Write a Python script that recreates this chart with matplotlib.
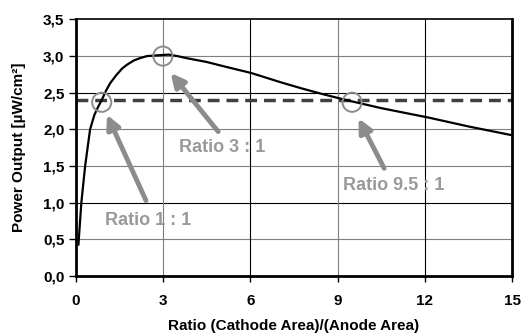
import matplotlib
matplotlib.use("Agg")
import matplotlib.pyplot as plt
import numpy as np

plt.rcParams['font.family'] = ['Liberation Sans', 'DejaVu Sans']
plt.rcParams['font.weight'] = 'bold'

# curve
ratio = np.array([0.1, 0.2, 0.33, 0.5, 0.65, 0.78, 0.9, 1.05, 1.19, 1.4, 1.6, 1.76,
                  2.0, 2.2, 2.45, 2.8, 3.2, 3.5, 3.84, 4.5, 5.2, 6.03, 7.07, 7.76,
                  8.5, 9.3, 10.5, 12.14, 13.5, 15.0])
power = np.array([0.43, 1.0, 1.5, 2.0, 2.2, 2.31, 2.4, 2.53, 2.63, 2.74, 2.83, 2.88,
                  2.94, 2.97, 3.0, 3.01, 3.02, 3.0, 2.97, 2.92, 2.85, 2.77, 2.64, 2.56,
                  2.48, 2.4, 2.29, 2.16, 2.04, 1.92])
threshold = 2.4

marked_x = [0.9, 3.0, 9.5]
marked_y = [2.37, 3.0, 2.37]
labels = ['Ratio 1 : 1', 'Ratio 3 : 1', 'Ratio 9.5 : 1']
label_pos = [(1.0, 0.76), (3.55, 1.76), (9.2, 1.23)]
arrow_tail = [(2.42, 1.03), (4.9, 1.97), (10.6, 1.47)]
arrow_head = [(1.08, 2.2), (3.27, 2.77), (9.72, 2.15)]

fig = plt.figure(figsize=(5.23, 3.35), dpi=100)
ax = fig.add_axes([0.1444, 0.176, 0.835, 0.766])

grid_gray = '#7f7f7f'
for yv, c in zip([0.5, 1.0, 1.5, 2.0, 2.5, 3.0],
                 [grid_gray, 'black', grid_gray, grid_gray, 'black', grid_gray]):
    ax.axhline(yv, color=c, lw=0.8, zorder=1)
for xv, c in zip([3, 6, 9, 12], [grid_gray, 'black', grid_gray, 'black']):
    ax.axvline(xv, color=c, lw=0.8, zorder=1)

ax.plot([0, 15], [threshold, threshold], color='#404040', lw=2.5,
        dashes=(3.4, 2.0), zorder=2)
ax.plot(ratio, power, color='black', lw=1.6, zorder=3, solid_joinstyle='round')

ax.scatter(marked_x, marked_y, s=190, facecolors='none', edgecolors='#8c8c8c',
           linewidths=1.4, zorder=4)

for lab, pos, tail, head in zip(labels, label_pos, arrow_tail, arrow_head):
    ax.annotate('', xy=head, xytext=tail,
                arrowprops=dict(arrowstyle='-|>,head_length=0.8,head_width=0.4',
                                color='#8c8c8c', lw=3.5, shrinkA=0, shrinkB=0),
                zorder=5)
    ax.text(pos[0], pos[1], lab, color='#999999', fontsize=13, fontweight='bold',
            va='center', ha='left', zorder=6)

ax.set_xlim(0, 15)
ax.set_ylim(0, 3.5)
ax.set_xticks([0, 3, 6, 9, 12, 15])
ax.set_yticks(np.arange(0, 3.51, 0.5))
ax.set_yticklabels([f'{v:.1f}'.replace('.', ',') for v in np.arange(0, 3.51, 0.5)])
ax.tick_params(axis='both', labelsize=11, width=1, direction='out')
ax.tick_params(axis='y', length=5, pad=3)
ax.tick_params(axis='x', length=4, pad=9)
for lbl in ax.get_xticklabels() + ax.get_yticklabels():
    lbl.set_fontweight('bold')

for s in ['left', 'bottom', 'right']:
    ax.spines[s].set_linewidth(2)
ax.spines['top'].set_linewidth(1.2)

ax.set_xlabel('Ratio (Cathode Area)/(Anode Area)', fontsize=11, fontweight='bold', labelpad=8)
ax.set_ylabel('Power Output [µW/cm²]', fontsize=11, fontweight='bold', labelpad=12)

fig.savefig('out.png', dpi=100)
